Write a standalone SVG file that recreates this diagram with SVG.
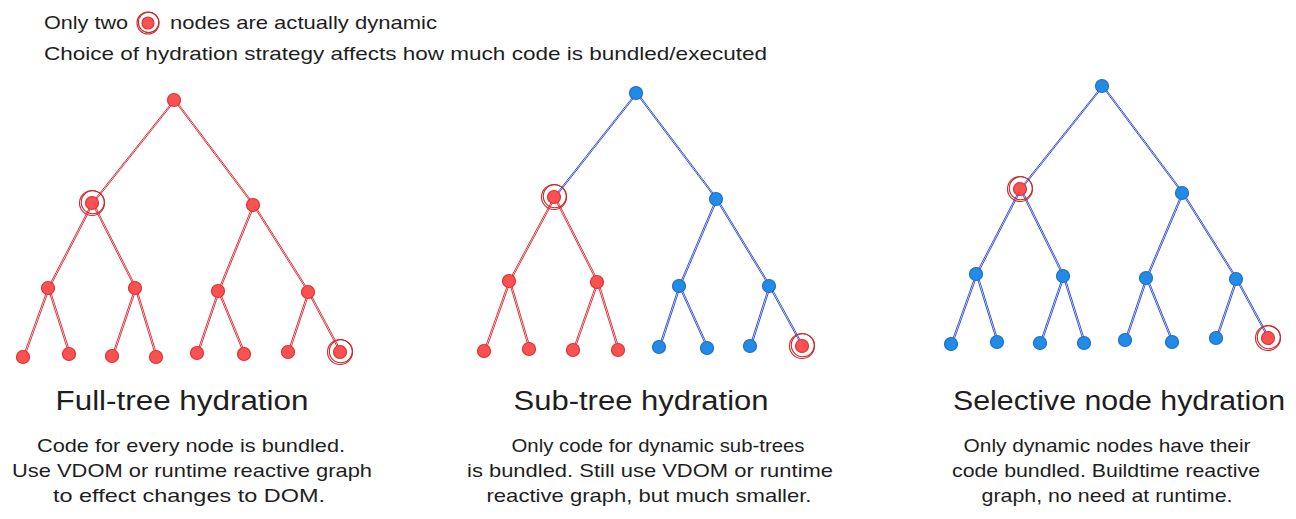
<svg xmlns="http://www.w3.org/2000/svg" width="1296" height="519" viewBox="0 0 1296 519">
<style>
text{font-family:"Liberation Sans",Arial,sans-serif;fill:#1e1e1e}
.h{font-size:19px}
.t{font-size:27px;text-anchor:middle}
.b{font-size:19px;text-anchor:middle}
.er{stroke:#d9363e;stroke-width:1;fill:none}
.eb{stroke:#3b55d0;stroke-width:1;fill:none}
.r{fill:#fa5252;stroke:#e03131;stroke-width:1.2}
.bl{fill:#228be6;stroke:#1c6fc9;stroke-width:1.2}
.ring{fill:none;stroke:#c92a2a;stroke-width:1.1}
</style>
<rect width="1296" height="519" fill="#ffffff"/>
<g id="header">
<text class="h" x="44" y="29" textLength="84" lengthAdjust="spacingAndGlyphs">Only two</text>
<circle class="ring" cx="148" cy="23" r="11"/><circle class="ring" cx="148.6" cy="22.4" r="10.2"/>
<circle class="r" cx="148" cy="23" r="6"/>
<text class="h" x="170" y="29" textLength="267" lengthAdjust="spacingAndGlyphs">nodes are actually dynamic</text>
<text class="h" x="44" y="60" textLength="723" lengthAdjust="spacingAndGlyphs">Choice of hydration strategy affects how much code is bundled/executed</text>
</g>
<g id="connectors">
<path class="er" d="M174 100L92 203M175.5 100L93.5 203M174 100L253 205M175.5 100L254.5 205M92 203L48 288M93.5 203L49.5 288M92 203L135 288M93.5 203L136.5 288M253 205L218 291M254.5 205L219.5 291M253 205L308 292M254.5 205L309.5 292M48 288L23 357M49.5 288L24.5 357M48 288L69 354M49.5 288L70.5 354M135 288L112 356M136.5 288L113.5 356M135 288L156 357M136.5 288L157.5 357M218 291L197 353M219.5 291L198.5 353M218 291L244 354M219.5 291L245.5 354M308 292L288 352M309.5 292L289.5 352M308 292L340 352M309.5 292L341.5 352"/>
<path class="eb" d="M636 93L554 197M637.5 93L555.5 197M636 93L716 199M637.5 93L717.5 199M716 199L679 286M717.5 199L680.5 286M716 199L769 286M717.5 199L770.5 286M679 286L659 347M680.5 286L660.5 347M679 286L707 348M680.5 286L708.5 348M769 286L750 346M770.5 286L751.5 346M769 286L802 346M770.5 286L803.5 346"/>
<path class="er" d="M554 197L509 281M555.5 197L510.5 281M554 197L597 282M555.5 197L598.5 282M509 281L484 351M510.5 281L485.5 351M509 281L529 349M510.5 281L530.5 349M597 282L573 350M598.5 282L574.5 350M597 282L618 350M598.5 282L619.5 350"/>
<path class="eb" d="M1102 86L1020 189M1103.5 86L1021.5 189M1102 86L1182 193M1103.5 86L1183.5 193M1020 189L976 274M1021.5 189L977.5 274M1020 189L1063 276M1021.5 189L1064.5 276M1182 193L1146 278M1183.5 193L1147.5 278M1182 193L1236 279M1183.5 193L1237.5 279M976 274L951 344M977.5 274L952.5 344M976 274L997 342M977.5 274L998.5 342M1063 276L1040 343M1064.5 276L1041.5 343M1063 276L1084 343M1064.5 276L1085.5 343M1146 278L1125 340M1147.5 278L1126.5 340M1146 278L1172 342M1147.5 278L1173.5 342M1236 279L1216 338M1237.5 279L1217.5 338M1236 279L1268 338M1237.5 279L1269.5 338"/>
</g>
<g id="tree1">
<g id="t1n0"><circle class="r" cx="174" cy="100" r="6.5"/></g>
<g id="t1n1"><circle class="ring" cx="92" cy="203" r="12.5"/><circle class="ring" cx="92.8" cy="202.3" r="11.5"/><circle class="r" cx="92" cy="203" r="6.5"/></g>
<g id="t1n2"><circle class="r" cx="253" cy="205" r="6.5"/></g>
<g id="t1n3"><circle class="r" cx="48" cy="288" r="6.5"/></g>
<g id="t1n4"><circle class="r" cx="135" cy="288" r="6.5"/></g>
<g id="t1n5"><circle class="r" cx="218" cy="291" r="6.5"/></g>
<g id="t1n6"><circle class="r" cx="308" cy="292" r="6.5"/></g>
<g id="t1n7"><circle class="r" cx="23" cy="357" r="6.5"/></g>
<g id="t1n8"><circle class="r" cx="69" cy="354" r="6.5"/></g>
<g id="t1n9"><circle class="r" cx="112" cy="356" r="6.5"/></g>
<g id="t1n10"><circle class="r" cx="156" cy="357" r="6.5"/></g>
<g id="t1n11"><circle class="r" cx="197" cy="353" r="6.5"/></g>
<g id="t1n12"><circle class="r" cx="244" cy="354" r="6.5"/></g>
<g id="t1n13"><circle class="r" cx="288" cy="352" r="6.5"/></g>
<g id="t1n14"><circle class="ring" cx="340" cy="352" r="12.5"/><circle class="ring" cx="340.8" cy="351.3" r="11.5"/><circle class="r" cx="340" cy="352" r="6.5"/></g>
</g>
<g id="tree2">
<g id="t2n0"><circle class="bl" cx="636" cy="93" r="6.5"/></g>
<g id="t2n1"><circle class="ring" cx="554" cy="197" r="12.5"/><circle class="ring" cx="554.8" cy="196.3" r="11.5"/><circle class="r" cx="554" cy="197" r="6.5"/></g>
<g id="t2n2"><circle class="bl" cx="716" cy="199" r="6.5"/></g>
<g id="t2n3"><circle class="r" cx="509" cy="281" r="6.5"/></g>
<g id="t2n4"><circle class="r" cx="597" cy="282" r="6.5"/></g>
<g id="t2n5"><circle class="bl" cx="679" cy="286" r="6.5"/></g>
<g id="t2n6"><circle class="bl" cx="769" cy="286" r="6.5"/></g>
<g id="t2n7"><circle class="r" cx="484" cy="351" r="6.5"/></g>
<g id="t2n8"><circle class="r" cx="529" cy="349" r="6.5"/></g>
<g id="t2n9"><circle class="r" cx="573" cy="350" r="6.5"/></g>
<g id="t2n10"><circle class="r" cx="618" cy="350" r="6.5"/></g>
<g id="t2n11"><circle class="bl" cx="659" cy="347" r="6.5"/></g>
<g id="t2n12"><circle class="bl" cx="707" cy="348" r="6.5"/></g>
<g id="t2n13"><circle class="bl" cx="750" cy="346" r="6.5"/></g>
<g id="t2n14"><circle class="ring" cx="802" cy="346" r="12.5"/><circle class="ring" cx="802.8" cy="345.3" r="11.5"/><circle class="r" cx="802" cy="346" r="6.5"/></g>
</g>
<g id="tree3">
<g id="t3n0"><circle class="bl" cx="1102" cy="86" r="6.5"/></g>
<g id="t3n1"><circle class="ring" cx="1020" cy="189" r="12.5"/><circle class="ring" cx="1020.8" cy="188.3" r="11.5"/><circle class="r" cx="1020" cy="189" r="6.5"/></g>
<g id="t3n2"><circle class="bl" cx="1182" cy="193" r="6.5"/></g>
<g id="t3n3"><circle class="bl" cx="976" cy="274" r="6.5"/></g>
<g id="t3n4"><circle class="bl" cx="1063" cy="276" r="6.5"/></g>
<g id="t3n5"><circle class="bl" cx="1146" cy="278" r="6.5"/></g>
<g id="t3n6"><circle class="bl" cx="1236" cy="279" r="6.5"/></g>
<g id="t3n7"><circle class="bl" cx="951" cy="344" r="6.5"/></g>
<g id="t3n8"><circle class="bl" cx="997" cy="342" r="6.5"/></g>
<g id="t3n9"><circle class="bl" cx="1040" cy="343" r="6.5"/></g>
<g id="t3n10"><circle class="bl" cx="1084" cy="343" r="6.5"/></g>
<g id="t3n11"><circle class="bl" cx="1125" cy="340" r="6.5"/></g>
<g id="t3n12"><circle class="bl" cx="1172" cy="342" r="6.5"/></g>
<g id="t3n13"><circle class="bl" cx="1216" cy="338" r="6.5"/></g>
<g id="t3n14"><circle class="ring" cx="1268" cy="338" r="12.5"/><circle class="ring" cx="1268.8" cy="337.3" r="11.5"/><circle class="r" cx="1268" cy="338" r="6.5"/></g>
</g>
<g id="labels">
<text class="t" x="182" y="410" textLength="253" lengthAdjust="spacingAndGlyphs">Full-tree hydration</text>
<text class="b" x="191" y="452" textLength="308" lengthAdjust="spacingAndGlyphs">Code for every node is bundled.</text>
<text class="b" x="192" y="477" textLength="360" lengthAdjust="spacingAndGlyphs">Use VDOM or runtime reactive graph</text>
<text class="b" x="189" y="502" textLength="272" lengthAdjust="spacingAndGlyphs">to effect changes to DOM.</text>
<text class="t" x="641" y="410" textLength="255" lengthAdjust="spacingAndGlyphs">Sub-tree hydration</text>
<text class="b" x="658" y="452" textLength="293" lengthAdjust="spacingAndGlyphs">Only code for dynamic sub-trees</text>
<text class="b" x="650" y="477" textLength="366" lengthAdjust="spacingAndGlyphs">is bundled. Still use VDOM or runtime</text>
<text class="b" x="649" y="502" textLength="325" lengthAdjust="spacingAndGlyphs">reactive graph, but much smaller.</text>
<text class="t" x="1119" y="410" textLength="332" lengthAdjust="spacingAndGlyphs">Selective node hydration</text>
<text class="b" x="1107" y="452" textLength="287" lengthAdjust="spacingAndGlyphs">Only dynamic nodes have their</text>
<text class="b" x="1106" y="477" textLength="308" lengthAdjust="spacingAndGlyphs">code bundled. Buildtime reactive</text>
<text class="b" x="1107" y="502" textLength="251" lengthAdjust="spacingAndGlyphs">graph, no need at runtime.</text>
</g>
</svg>
